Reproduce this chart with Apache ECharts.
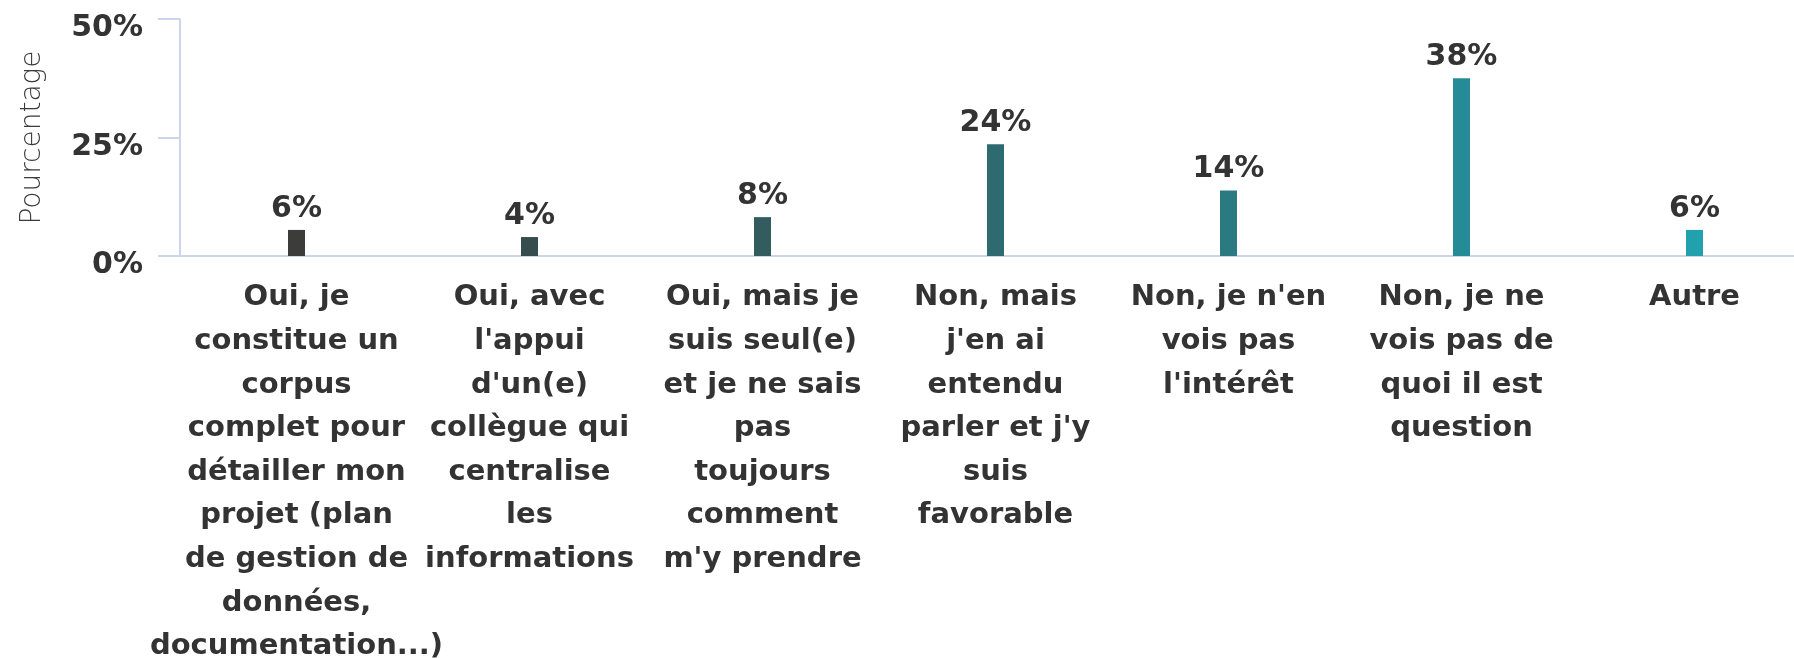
<!DOCTYPE html>
<html>
<head>
<meta charset="utf-8">
<script src="https://cdn.jsdelivr.net/npm/echarts@6/dist/echarts.min.js"></script>
<style>
html, body { margin: 0; padding: 0; background: #fff; }
#chart { width: 1794px; height: 658px; }
</style>
</head>
<body>
<div id="chart"></div>
<script>
// libellés des réponses (retours à la ligne comme sur l'image)
var categories = [
	"Oui, je\nconstitue un\ncorpus\ncomplet pour\ndétailler mon\nprojet (plan\nde gestion de\ndonnées,\ndocumentation...)",
	"Oui, avec\nl'appui\nd'un(e)\ncollègue qui\ncentralise\nles\ninformations",
	"Oui, mais je\nsuis seul(e)\net je ne sais\npas\ntoujours\ncomment\nm'y prendre",
	"Non, mais\nj'en ai\nentendu\nparler et j'y\nsuis\nfavorable",
	"Non, je n'en\nvois pas\nl'intérêt",
	"Non, je ne\nvois pas de\nquoi il est\nquestion",
	"Autre"
];
// pourcentages
var values = [5.5, 4.0, 8.2, 23.6, 13.8, 37.5, 5.5];
var yTicks = [0, 25, 50];

var barColors = ['#3c3c3a', '#364d4e', '#335c5e', '#2e6b70', '#2a7a82', '#258c97', '#21a0ae'];
var axisColor = '#cbd5ec';

var myChart = echarts.init(document.getElementById('chart'));

var option = {
	animation: false,
	grid: {
		left: 180, right: -17, top: 19, bottom: 402,
		containLabel: false,
		outerBoundsMode: 'none'
	},
	xAxis: {
		type: 'category',
		data: categories,
		axisLine: { lineStyle: { color: axisColor, width: 2 } },
		axisTick: { length: 22, lineStyle: { color: axisColor, width: 2 } },
		axisLabel: {
			interval: 0,
			margin: 20,
			color: '#333',
			fontFamily: 'DejaVu Sans',
			fontWeight: 'bold',
			fontSize: 29,
			lineHeight: 43.6,
			align: 'center'
		}
	},
	yAxis: {
		type: 'value',
		min: yTicks[0],
		max: yTicks[yTicks.length - 1],
		interval: 25,
		name: 'Pourcentage',
		nameLocation: 'middle',
		nameGap: 133,
		nameTextStyle: {
			color: '#3a3a3a',
			fontFamily: 'DejaVu Sans',
			fontWeight: 300,
			fontSize: 28
		},
		axisLine: { show: true, lineStyle: { color: axisColor, width: 2 } },
		axisTick: { show: true, length: 22, lineStyle: { color: axisColor, width: 2 } },
		splitLine: { show: false },
		axisLabel: {
			margin: 37,
			color: '#333',
			fontFamily: 'DejaVu Sans',
			fontWeight: 'bold',
			fontSize: 30,
			verticalAlign: 'top',
			lineHeight: 19,
			formatter: '{value}%'
		}
	},
	series: [{
		type: 'bar',
		barWidth: 17,
		data: values.map(function (v, i) {
			return { value: v, itemStyle: { color: barColors[i] } };
		}),
		label: {
			show: true,
			position: 'top',
			distance: 6,
			color: '#333',
			fontFamily: 'DejaVu Sans',
			fontWeight: 'bold',
			fontSize: 30,
			formatter: function (p) { return Math.round(p.value) + '%'; }
		}
	}]
};
myChart.setOption(option);
</script>
</body>
</html>
